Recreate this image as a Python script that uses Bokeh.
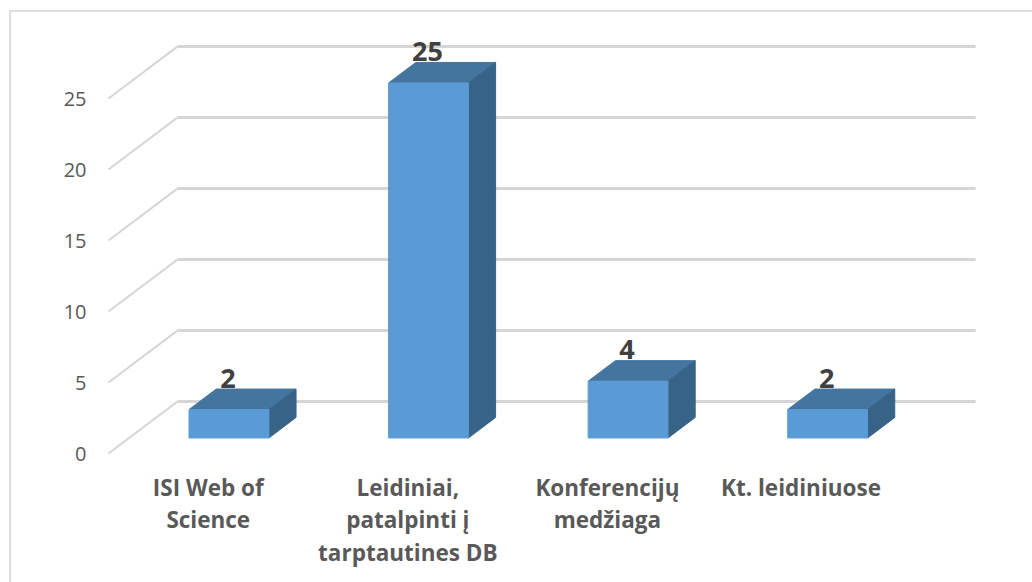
from bokeh.plotting import figure
from bokeh.models import Range1d, FixedTicker, ColumnDataSource
from bokeh.core.properties import value
from bokeh.embed import file_html
from bokeh.resources import INLINE

categories = ["ISI Web of\nScience", "Leidiniai,\npatalpinti į\ntarptautines DB",
              "Konferencijų\nmedžiaga", "Kt. leidiniuose"]
values = [2, 25, 4, 2]
y_ticks = [0, 5, 10, 15, 20, 25]

# oblique projection, in data units
DX, DY = 0.345, 3.66          # full floor depth
D0, D1 = 0.30, 0.695          # bar's front / back depth fraction
HALF = 0.2                    # half bar width
XL, XR = -0.5, 3.5

p = figure(width=1023, height=572, output_backend="svg", toolbar_location=None,
           x_range=Range1d(-0.54, 4.14), y_range=Range1d(-9.22, 31.06),
           min_border_left=89, min_border_right=0, min_border_top=0, min_border_bottom=0,
           outline_line_color=None, margin=(10, 0, 0, 9))
p.styles = {"border-left": "2px solid #dedede", "border-top": "2px solid #dedede",
            "box-sizing": "border-box"}
p.grid.visible = False
p.xaxis.visible = False
ya = p.yaxis[0]
ya.ticker = FixedTicker(ticks=y_ticks)
ya.axis_line_color = None
ya.major_tick_line_color = None
ya.minor_tick_line_color = None
ya.major_label_text_font = "Open Sans"
ya.major_label_text_font_size = "20px"
ya.major_label_text_color = "#595959"
ya.major_label_standoff = 8

# walls
GRID = "#d6d6d6"
for t in y_ticks:
    p.line([XL, XL + DX], [t, t + DY], line_color=GRID, line_width=2)
    p.line([XL + DX, XR + DX], [t + DY, t + DY], line_color=GRID, line_width=3)

# bars
for i, v in enumerate(values):
    x0 = i - HALF + DX * D0
    x1 = i + HALF + DX * D0
    bx = DX * (D1 - D0)
    by = DY * (D1 - D0)
    y0 = DY * D0
    y1 = v + y0
    p.patch([x0, x1, x1 + bx, x0 + bx], [y1, y1, y1 + by, y1 + by],
            fill_color="#44759F", line_color="#44759F", line_width=1)
    p.patch([x1, x1 + bx, x1 + bx, x1], [y0, y0 + by, y1 + by, y1],
            fill_color="#376387", line_color="#376387", line_width=1)
    p.quad(left=x0, right=x1, bottom=y0, top=y1,
           fill_color="#5B9BD5", line_color="#5B9BD5", line_width=1)

# data labels
src = ColumnDataSource(dict(
    x=[i + DX * D0 for i in range(len(values))],
    y=[v + DY * D1 for v in values],
    t=[str(v) for v in values]))
p.text("x", "y", text="t", source=src, text_align="center", text_baseline="alphabetic",
       text_font=value("Open Sans"), text_font_style="bold", text_font_size="27px",
       text_color="#404040", y_offset=-11, x_offset=-1)

# category labels
src2 = ColumnDataSource(dict(x=list(range(len(categories))),
                             y=[-1.29] * len(categories), t=categories,
                             dx=[0, 0, 0, -6]))
p.text("x", "y", text="t", source=src2, text_align="center", text_baseline="top",
       text_font=value("Open Sans"), text_font_style="bold", text_font_size="22.5px",
       text_color="#595959", text_line_height=1.05, x_offset="dx")

open("out.html", "w").write(file_html(p, INLINE))
